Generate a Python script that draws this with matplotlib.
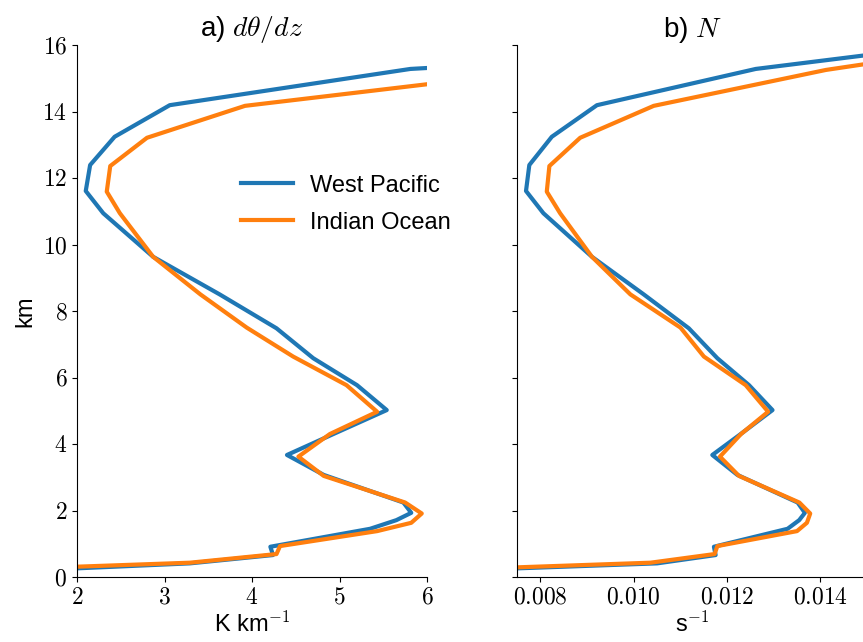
import matplotlib
matplotlib.use("Agg")
import matplotlib.pyplot as plt
from matplotlib.ticker import FuncFormatter, MultipleLocator

plt.rcParams["mathtext.fontset"] = "cm"
plt.rcParams["font.family"] = ["Liberation Sans", "DejaVu Sans"]

# Profile heights (km) for each region
z_wp = [16.5, 15.28, 14.19, 13.24, 12.39, 11.61, 10.94, 9.63, 8.5, 7.48, 6.58, 5.77,
        5.02, 4.3, 3.67, 3.07, 2.24, 1.93, 1.71, 1.45, 0.91, 0.66, 0.41, 0.2]
z_io = [16.5, 15.25, 14.17, 13.21, 12.36, 11.59, 10.94, 9.63, 8.5, 7.5, 6.63, 5.77,
        4.97, 4.3, 3.62, 3.04, 2.24, 1.91, 1.63, 1.38, 0.93, 0.69, 0.43, 0.2]

# Potential temperature lapse rate dθ/dz (K km^-1)
dtdz_wp = [14.0, 5.81, 3.06, 2.43, 2.15, 2.10, 2.30, 2.87, 3.63, 4.28, 4.70, 5.20,
           5.54, 4.93, 4.40, 4.82, 5.73, 5.82, 5.65, 5.35, 4.21, 4.24, 3.29, 1.48]
dtdz_io = [15.0, 7.38, 3.92, 2.80, 2.38, 2.34, 2.49, 2.87, 3.41, 3.94, 4.47, 5.08,
           5.43, 4.89, 4.53, 4.82, 5.75, 5.94, 5.82, 5.43, 4.32, 4.28, 3.29, 0.82]

# Brunt-Vaisala frequency N (s^-1)
n_wp = [0.0196, 0.012616, 0.009213, 0.008246, 0.007764, 0.007693, 0.008066, 0.009106,
        0.010215, 0.011182, 0.011793, 0.012472, 0.012975, 0.012294, 0.011685, 0.012223,
        0.013513, 0.013669, 0.013547, 0.013298, 0.01172, 0.011756, 0.010503, 0.0063]
n_io = [0.0201, 0.01412, 0.010430, 0.008854, 0.008194, 0.008138, 0.008424, 0.009106,
        0.009929, 0.011004, 0.011505, 0.012401, 0.012881, 0.0123, 0.011849, 0.012257,
        0.01355, 0.013783, 0.013712, 0.0135, 0.011793, 0.011735, 0.010359, 0.00566]

regions = ["West Pacific", "Indian Ocean"]
colors = ["#1f77b4", "#ff7f0e"]

W, H = 863, 642
fig = plt.figure(figsize=(W / 100, H / 100), dpi=100)
ax1 = fig.add_axes([77 / W, 1 - 577 / H, 350 / W, 532 / H])
ax2 = fig.add_axes([517 / W, 1 - 577 / H, 350 / W, 532 / H], sharey=ax1)

ax1.plot(dtdz_wp, z_wp, color=colors[0], lw=3, label=regions[0])
ax1.plot(dtdz_io, z_io, color=colors[1], lw=3, label=regions[1])
ax2.plot(n_wp, z_wp, color=colors[0], lw=3)
ax2.plot(n_io, z_io, color=colors[1], lw=3)

ax1.set_xlim(2, 6)
ax1.set_ylim(0, 16)
ax2.set_xlim(0.0075, 0.015)
ax1.xaxis.set_major_locator(MultipleLocator(1))
ax1.yaxis.set_major_locator(MultipleLocator(2))
ax2.xaxis.set_major_locator(MultipleLocator(0.002))

fmt_int = FuncFormatter(lambda v, p: r"$%d$" % round(v))
fmt_n = FuncFormatter(lambda v, p: r"$%.3f$" % v)
ax1.xaxis.set_major_formatter(fmt_int)
ax1.yaxis.set_major_formatter(fmt_int)
ax2.xaxis.set_major_formatter(fmt_n)
plt.setp(ax2.get_yticklabels(), visible=False)

for ax in (ax1, ax2):
    ax.spines["top"].set_visible(False)
    ax.spines["right"].set_visible(False)
    ax.tick_params(labelsize=17)

ax1.set_title(r"a) $d\theta/dz$", fontsize=20, pad=6)
ax2.set_title(r"b) $N$", fontsize=20, pad=6)
ax1.set_xlabel(r"K km$^{-1}$", fontsize=17, labelpad=2)
ax2.set_xlabel(r"s$^{-1}$", fontsize=17, labelpad=2)
ax1.set_ylabel("km", fontsize=17)

ax1.legend(loc="center", bbox_to_anchor=(0.769, 0.701), frameon=False,
           fontsize=17, handlelength=2.2, handletextpad=0.72, labelspacing=0.63)

fig.savefig("out.png", dpi=100)
